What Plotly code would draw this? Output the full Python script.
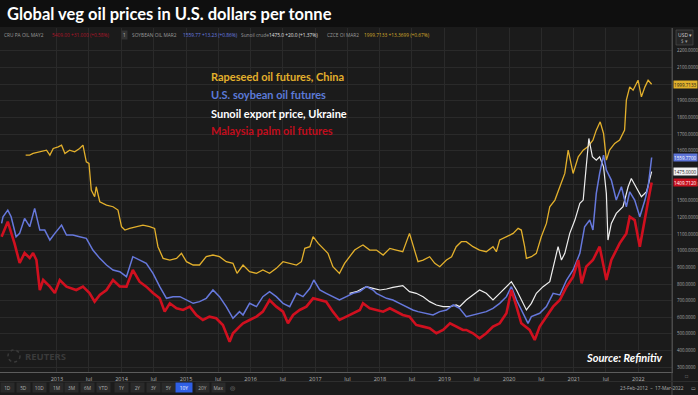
import plotly.graph_objects as go

# ---------------- data ----------------
palm_dates = [
    "2012-02-23","2012-03-29","2012-05-06","2012-06-04","2012-07-02","2012-07-31","2012-08-19","2012-09-07","2012-09-26","2012-10-15",
    "2012-11-22","2012-12-20","2013-01-17","2013-02-24","2013-04-20","2013-05-28","2013-07-04","2013-08-02","2013-08-31","2013-10-08",
    "2013-11-14","2013-12-22","2014-01-29","2014-03-06","2014-04-13","2014-05-21","2014-06-28","2014-08-05","2014-09-02","2014-10-01",
    "2014-11-08","2014-12-15","2015-01-22","2015-02-28","2015-04-06","2015-05-13","2015-06-20","2015-07-28","2015-09-04","2015-09-23",
    "2015-10-30","2015-11-19","2015-12-26","2016-02-03","2016-03-10","2016-04-17","2016-05-25","2016-07-02","2016-07-30","2016-08-28",
    "2016-10-04","2016-11-11","2016-12-19","2017-01-26","2017-03-03","2017-04-10","2017-05-17","2017-06-25","2017-08-02","2017-09-09",
    "2017-09-27","2017-11-04","2017-12-12","2018-01-19","2018-02-26","2018-04-03","2018-05-10","2018-06-17","2018-07-25","2018-09-02",
    "2018-10-09","2018-11-16","2018-12-24","2019-02-01","2019-03-08","2019-04-15","2019-05-04","2019-06-11","2019-07-18","2019-08-25",
    "2019-10-02","2019-11-09","2019-12-17","2020-01-14","2020-02-12","2020-03-10","2020-04-26","2020-05-25","2020-06-22","2020-07-30",
    "2020-09-06","2020-10-14","2020-11-21","2020-12-28","2021-01-26","2021-02-14","2021-03-12","2021-04-19","2021-05-27","2021-07-04",
    "2021-08-01","2021-09-17","2021-10-25","2021-11-13","2021-12-11","2022-01-09","2022-02-07","2022-03-05","2022-03-17",
]
palm_values = [
    1084,1174,1044,926,986,956,986,944,764,824,
    784,746,824,784,764,784,746,694,734,764,
    824,785,784,884,814,784,746,714,634,684,
    654,644,664,614,584,604,594,554,453,504,
    544,564,584,604,634,704,664,634,564,614,
    644,664,714,704,694,634,584,604,624,644,
    684,654,644,634,654,634,614,604,554,544,
    534,504,524,564,544,524,524,504,474,504,
    544,564,624,764,664,564,524,464,544,604,
    664,704,784,844,944,804,904,944,1024,824,
    944,1044,1104,1204,1184,1024,1204,1344,1409.712,
]

soy_dates = [
    "2012-02-23","2012-03-02","2012-03-29","2012-04-17","2012-05-15","2012-06-04","2012-07-02","2012-07-31","2012-08-28","2012-09-26",
    "2012-10-24","2012-11-22","2012-12-20","2013-01-27","2013-02-24","2013-04-01","2013-05-09","2013-06-16","2013-07-23","2013-08-31",
    "2013-10-08","2013-11-14","2013-12-22","2014-01-29","2014-03-06","2014-04-13","2014-05-21","2014-06-28","2014-08-05","2014-09-12",
    "2014-10-19","2014-11-27","2015-01-03","2015-02-10","2015-03-18","2015-04-25","2015-06-02","2015-07-09","2015-08-16","2015-09-23",
    "2015-10-30","2015-11-19","2015-12-26","2016-02-03","2016-03-10","2016-04-17","2016-05-25","2016-07-02","2016-08-09","2016-09-16",
    "2016-10-23","2016-12-01","2016-12-23","2017-01-26","2017-03-03","2017-04-10","2017-05-17","2017-06-25","2017-08-02","2017-09-09",
    "2017-10-16","2017-11-23","2017-12-12","2018-02-07","2018-03-15","2018-04-22","2018-05-29","2018-07-06","2018-08-04","2018-09-20",
    "2018-10-28","2018-12-05","2019-01-12","2019-02-19","2019-03-27","2019-05-04","2019-06-11","2019-07-18","2019-08-25","2019-10-02",
    "2019-11-09","2019-12-17","2020-01-14","2020-02-12","2020-03-20","2020-04-17","2020-05-06","2020-06-22","2020-07-30","2020-09-06",
    "2020-10-14","2020-11-21","2020-12-28","2021-02-04","2021-03-03","2021-04-01","2021-04-19","2021-05-08","2021-05-27","2021-06-18",
    "2021-07-04","2021-08-01","2021-08-29","2021-09-27","2021-10-25","2021-11-13","2021-12-11","2022-01-09","2022-02-07","2022-02-25",
    "2022-03-17",
]
soy_values = [
    1164,1204,1244,1204,1084,1104,1194,1144,1254,1124,
    1124,1064,1104,1154,1094,1094,1084,1074,1004,954,
    914,884,874,844,964,944,924,864,784,714,
    724,724,704,684,694,714,764,724,664,594,
    634,614,684,664,724,754,724,684,664,744,
    724,774,824,764,744,724,704,724,744,754,
    784,764,744,714,704,684,664,644,634,624,
    614,634,644,674,654,604,614,624,634,654,
    684,724,784,704,624,564,604,624,664,744,
    734,824,884,984,1144,1184,1124,1344,1464,1574,
    1484,1424,1304,1384,1264,1354,1304,1204,1304,1384,
    1559.77,
]

sun_dates = [
    "2017-07-13","2017-08-21","2017-09-27","2017-10-16","2017-11-23","2018-01-01","2018-02-07","2018-03-15","2018-05-10","2018-06-17",
    "2018-07-25","2018-09-02","2018-10-09","2018-11-16","2018-12-24","2019-02-01","2019-03-08","2019-03-27","2019-05-04","2019-06-11",
    "2019-07-18","2019-08-25","2019-10-02","2019-11-09","2019-12-17","2020-01-14","2020-02-12","2020-03-10","2020-04-08","2020-05-06",
    "2020-06-03","2020-07-11","2020-08-18","2020-09-16","2020-10-04","2020-10-23","2020-11-11","2020-12-09","2021-01-07","2021-02-04",
    "2021-02-23","2021-03-12","2021-03-27","2021-04-16","2021-05-08","2021-05-27","2021-06-18","2021-07-04","2021-07-13","2021-08-01",
    "2021-08-29","2021-10-06","2021-11-04","2021-11-22","2021-12-21","2022-01-18","2022-02-16","2022-03-14","2022-03-17",
]
sun_values = [
    744,754,774,784,774,764,770,780,790,754,
    744,724,694,674,664,664,674,664,704,734,
    764,744,704,744,784,814,764,704,644,684,
    744,784,814,944,1024,944,984,1104,1184,1284,
    1304,1504,1674,1564,1544,1564,1504,1344,1064,1164,
    1224,1264,1384,1434,1374,1324,1354,1464,1475,
]

rape_dates = [
    "2012-07-08","2012-07-31","2012-08-19","2012-09-26","2012-11-03","2012-11-22","2012-12-11","2013-01-08","2013-01-27","2013-02-15",
    "2013-03-13","2013-04-11","2013-05-09","2013-05-28","2013-06-16","2013-07-01","2013-07-14","2013-08-02","2013-08-11","2013-08-31",
    "2013-10-08","2013-11-14","2013-12-12","2014-01-01","2014-01-20","2014-02-16","2014-03-25","2014-05-02","2014-06-09","2014-07-07",
    "2014-07-26","2014-08-24","2014-10-01","2014-11-08","2014-12-06","2015-01-03","2015-02-10","2015-03-18","2015-04-25","2015-06-02",
    "2015-07-09","2015-08-16","2015-09-23","2015-10-16","2015-11-19","2015-12-26","2016-02-03","2016-03-10","2016-04-17","2016-05-25",
    "2016-07-02","2016-08-09","2016-09-16","2016-10-14","2016-11-02","2016-12-01","2016-12-19","2017-01-17","2017-02-14","2017-03-13",
    "2017-04-10","2017-05-17","2017-06-15","2017-07-13","2017-08-11","2017-09-09","2017-09-27","2017-11-04","2017-12-12","2018-01-19",
    "2018-02-26","2018-04-03","2018-05-10","2018-06-17","2018-07-06","2018-08-04","2018-09-02","2018-10-09","2018-11-07","2018-12-05",
    "2019-01-12","2019-02-10","2019-03-08","2019-04-06","2019-05-04","2019-06-11","2019-07-18","2019-08-25","2019-10-02","2019-10-21",
    "2019-11-09","2019-12-17","2020-01-24","2020-02-21","2020-03-10","2020-03-29","2020-04-08","2020-05-06","2020-06-03","2020-07-01",
    "2020-07-30","2020-08-18","2020-09-16","2020-10-14","2020-11-11","2020-11-30","2020-12-28","2021-01-26","2021-02-23","2021-03-21",
    "2021-04-19","2021-05-08","2021-05-30","2021-06-18","2021-07-04","2021-07-22","2021-08-20","2021-09-17","2021-10-15","2021-10-25",
    "2021-11-13","2021-12-02","2021-12-30","2022-01-18","2022-02-07","2022-02-25","2022-03-17",
]
rape_values = [
    1574,1574,1584,1594,1604,1574,1614,1624,1634,1584,
    1604,1594,1614,1634,1534,1524,1364,1324,1384,1294,
    1274,1264,1244,1144,1124,1134,1144,1154,1144,1134,
    1024,954,944,954,984,934,914,914,964,974,
    964,934,924,864,914,874,864,884,864,894,
    934,924,914,934,1014,1024,1084,1044,1014,984,
    904,864,924,964,1004,1024,1034,1004,1004,974,
    1014,1004,994,1104,1034,934,944,964,924,904,
    944,964,1024,1054,1054,1024,1004,994,1024,994,
    1064,1084,1104,1134,1124,1024,954,964,984,1084,
    1164,1264,1304,1384,1464,1604,1464,1564,1604,1624,
    1664,1724,1774,1704,1544,1604,1644,1664,1724,1904,
    1984,1964,2024,1924,1984,2024,1999.7133,
]

series_names = ["Rapeseed oil futures, China", "U.S. soybean oil futures",
                "Sunoil export price, Ukraine", "Malaysia palm oil futures"]

x_tick_dates = ["2013-01-01","2013-07-01","2014-01-01","2014-07-01","2015-01-01","2015-07-01",
                "2016-01-01","2016-07-01","2017-01-01","2017-07-01","2018-01-01","2018-07-01",
                "2019-01-01","2019-07-01","2020-01-01","2020-07-01","2021-01-01","2021-07-01","2022-01-01"]
x_tick_labels = ["2013","Jul","2014","Jul","2015","Jul","2016","Jul","2017","Jul","2018","Jul",
                 "2019","Jul","2020","Jul","2021","Jul","2022"]
y_tick_values = [300,400,500,600,700,800,900,1000,1100,1200,1300,1400,1500,1600,1700,1800,1900,2000,2100,2200]
# labels hidden behind the last-value tags in the reference are left blank
y_tick_labels = ["300.0000","400.0000","500.0000","600.0000","700.0000","800.0000","900.0000","1000.0000",
                 "1100.0000","1200.0000","1300.0000","1400.0000","","1600.0000","1700.0000","1800.0000",
                 "1900.0000","","2100.0000","2200.0000"]

range_buttons = ["1D","5D","10D","1M","3M","6M","YTD","1Y","2Y","3Y","5Y","10Y","20Y","Max"]

# ---------------- styling ----------------
BG = "#1b1b1b"
GRID = "#2a2a2a"
C_RAPE = "#e3b02c"
C_SOY = "#6678dc"
C_SUN = "#eeeeee"
C_PALM = "#d0101f"
FONT = "Open Sans"

W, H = 698, 395
PL_W, PL_TOP, PL_BOT = 672, 28, 372
PL_H = PL_BOT - PL_TOP

def px(x):
    return x / PL_W

def py(y):
    return (PL_BOT - y) / PL_H

fig = go.Figure()
for d, v, c, w in [(rape_dates, rape_values, C_RAPE, 1.3),
                   (sun_dates, sun_values, C_SUN, 1.2),
                   (soy_dates, soy_values, C_SOY, 1.5),
                   (palm_dates, palm_values, C_PALM, 2.6)]:
    fig.add_trace(go.Scatter(x=d, y=v, mode="lines", line=dict(color=c, width=w),
                             showlegend=False, hoverinfo="skip"))

fig.update_layout(
    width=W, height=H, margin=dict(l=0, r=W - PL_W, t=PL_TOP, b=H - PL_BOT, autoexpand=False),
    paper_bgcolor=BG, plot_bgcolor=BG, showlegend=False,
    font=dict(family=FONT, color="#b0b0b0"),
)
fig.update_xaxes(
    type="date", range=["2012-02-14", "2022-07-10"],
    tickvals=x_tick_dates, ticktext=x_tick_labels,
    tickfont=dict(size=5.5, color="#b5b5b5", family=FONT),
    showgrid=True, gridcolor=GRID, gridwidth=1, zeroline=False,
    showline=True, linecolor="#5c5c5c", linewidth=1, ticks="", ticklabelstandoff=1,
)
fig.update_yaxes(
    side="right", range=[271.5, 2337.5],
    tickvals=y_tick_values, ticktext=y_tick_labels,
    tickfont=dict(size=4.4, color="#a8a8a8", family=FONT),
    showgrid=True, gridcolor=GRID, gridwidth=1, zeroline=False,
    showline=True, linecolor="#4a4a4a", linewidth=1, ticks="", ticklabelstandoff=3,
)

shapes = []
# title bar
shapes.append(dict(type="rect", xref="paper", yref="paper", x0=0, x1=px(W), y0=py(27), y1=py(0),
                   fillcolor="#0f0f0f", line=dict(width=0), layer="below"))
# divider lines
shapes.append(dict(type="line", xref="paper", yref="paper", x0=1, x1=1, y0=py(395), y1=py(28),
                   line=dict(color="#4a4a4a", width=1)))
shapes.append(dict(type="line", xref="paper", yref="paper", x0=0, x1=px(W), y0=py(381.5), y1=py(381.5),
                   line=dict(color="#2e2e2e", width=1)))
# USD box
shapes.append(dict(type="rect", xref="paper", yref="paper", x0=px(676), x1=px(693), y0=py(45), y1=py(30),
                   fillcolor="#262626", line=dict(color="#555555", width=0.6)))
# Reuters logo circle
shapes.append(dict(type="circle", xref="paper", yref="paper", x0=px(8), x1=px(20), y0=py(362), y1=py(350),
                   line=dict(color="#3a3a3a", width=1.5, dash="dot")))
fig.update_layout(shapes=shapes)

ann = []
# title
ann.append(dict(text="<b>Global veg oil prices in U.S. dollars per tonne</b>", xref="paper", yref="paper",
                x=px(5), y=py(14), xanchor="left", yanchor="middle", showarrow=False,
                font=dict(family="Lato", size=16.5, color="white")))
# series labels
for i, (name, col) in enumerate(zip(series_names, [C_RAPE, "#5b7ad8", "#ffffff", "#c20d1d"])):
    ann.append(dict(text="<b>%s</b>" % name, xref="paper", yref="paper", x=px(209),
                    y=py([76, 94, 113, 130][i]), xanchor="left", yanchor="middle", showarrow=False,
                    font=dict(family="Lato", size=11, color=col)))
# header legend row
hdr = [("CRU PA OIL MAY2", 2, "#9a9a9a"), ("5409.00 +31.000 (+0.58%)", 50, "#b0162a"),
       ("SOYBEAN OIL MAR2", 130, "#9a9a9a"), ("1559.77 +13.23 (+0.86%)", 181, "#6a7ee0"),
       ("Sunoil crude", 239, "#9a9a9a"), ("1475.0 +20.0 (+1.37%)", 267, "#e0e0e0"),
       ("CZCE OI MAR2", 325, "#9a9a9a"), ("1999.7133 +13.3699 (+0.67%)", 362, "#d8ac2c")]
for t, x, c in hdr:
    ann.append(dict(text=t, xref="paper", yref="paper", x=px(x), y=py(34.5), xanchor="left",
                    yanchor="middle", showarrow=False, font=dict(size=4.8, color=c, family=FONT)))
ann.append(dict(text="1", xref="paper", yref="paper", x=px(124), y=py(34.5), xanchor="center",
                yanchor="middle", showarrow=False, bgcolor="#333333", borderpad=1,
                font=dict(size=4.5, color="#bbbbbb", family=FONT)))
ann.append(dict(text="USD ▾", xref="paper", yref="paper", x=px(684.5), y=py(35), xanchor="center",
                yanchor="middle", showarrow=False, font=dict(size=5, color="#cccccc", family=FONT)))
ann.append(dict(text="$ ▾", xref="paper", yref="paper", x=px(684.5), y=py(41), xanchor="center",
                yanchor="middle", showarrow=False, font=dict(size=4.5, color="#999999", family=FONT)))
# last-value tags
for vals, bg, fg in [(rape_values, "#e0b02c", "#1a1a1a"), (soy_values, "#5d74d8", "#ffffff"),
                     (sun_values, "#f2f2f2", "#1a1a1a"), (palm_values, "#c8101f", "#ffffff")]:
    ann.append(dict(text="%.4f" % vals[-1], xref="paper", yref="y", x=px(673), y=vals[-1],
                    xanchor="left", yanchor="middle", showarrow=False, bgcolor=bg, width=23, height=7,
                    align="left", borderpad=0, font=dict(size=4.6, color=fg, family=FONT)))
# source & watermark
ann.append(dict(text="<b><i>Source: Refinitiv</i></b>", xref="paper", yref="paper", x=px(665), y=py(357),
                xanchor="right", yanchor="middle", showarrow=False,
                font=dict(family="Lato", size=11, color="white")))
ann.append(dict(text="<b>REUTERS</b>", xref="paper", yref="paper", x=px(23), y=py(356.5),
                xanchor="left", yanchor="middle", showarrow=False,
                font=dict(family=FONT, size=9.5, color="#3a3a3a")))
# range toolbar
btn_x = [7, 23, 39, 56, 71, 87, 103, 121, 137, 153, 168, 184, 202, 218]
for lab, x in zip(range_buttons, btn_x):
    sel = lab == "10Y"
    ann.append(dict(text=lab, xref="paper", yref="paper", x=px(x), y=py(387.5), xanchor="center",
                    yanchor="middle", showarrow=False, bgcolor="#2f5fe6" if sel else "#2a2a2a",
                    width=16 if sel else 13, height=9, borderpad=0,
                    font=dict(size=4.8, color="#ffffff" if sel else "#b0b0b0", family=FONT)))
ann.append(dict(text="◎", xref="paper", yref="paper", x=px(232), y=py(387.5), xanchor="center",
                yanchor="middle", showarrow=False, font=dict(size=6, color="#888888")))
ann.append(dict(text="23-Feb-2012  –  17-Mar-2022", xref="paper", yref="paper", x=px(686), y=py(388),
                xanchor="right", yanchor="middle", showarrow=False,
                font=dict(size=4.8, color="#b0b0b0", family=FONT)))
ann.append(dict(text="▭", xref="paper", yref="paper", x=px(693), y=py(388), xanchor="center",
                yanchor="middle", showarrow=False, font=dict(size=5, color="#aaaaaa")))
ann.append(dict(text="□", xref="paper", yref="paper", x=px(686), y=py(376.5), xanchor="center",
                yanchor="middle", showarrow=False, font=dict(size=5, color="#888888")))
fig.update_layout(annotations=ann)

fig.write_html("out.html", config={"displayModeBar": False, "staticPlot": True},
               post_script="document.body.style.margin='0px';document.body.style.overflow='hidden';")
